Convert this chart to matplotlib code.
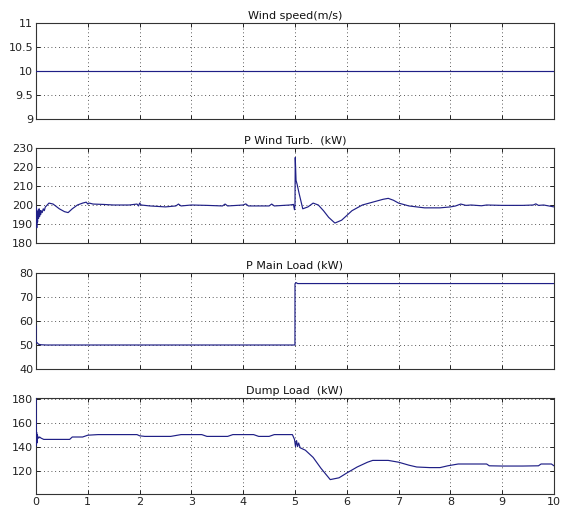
import matplotlib
matplotlib.use("Agg")
import matplotlib.pyplot as plt

# ---------------- data ----------------
wind_t = [0, 10]
wind_v = [10, 10]

turb_t = [0, 0.005, 0.01, 0.015, 0.02, 0.03, 0.04, 0.05, 0.06, 0.07, 0.08, 0.09, 0.10,
          0.12, 0.14, 0.16, 0.18, 0.2, 0.25, 0.33, 0.45, 0.55, 0.62, 0.7, 0.8, 0.9,
          0.97, 1.0, 1.03, 1.1, 1.3, 1.5, 1.8, 1.95, 1.98, 2.0, 2.03, 2.2, 2.5, 2.7,
          2.75, 2.8, 3.0, 3.3, 3.6, 3.65, 3.7, 4.0, 4.05, 4.1, 4.5, 4.55, 4.6, 4.9,
          4.97, 4.99, 5.0, 5.005, 5.02, 5.04, 5.08, 5.15, 5.25, 5.35, 5.45, 5.55,
          5.65, 5.77, 5.9, 6.1, 6.3, 6.5, 6.7, 6.8, 6.9, 7.0, 7.2, 7.5, 7.8, 8.0,
          8.1, 8.2, 8.3, 8.4, 8.6, 8.7, 9.0, 9.4, 9.6, 9.65, 9.7, 9.8, 10.0]
turb_p = [199, 192, 198, 188, 196, 191, 197, 193, 198, 194, 197, 195, 197,
          196, 198, 197, 199, 199.5, 201, 200.5, 198, 196.5, 196, 198, 200, 201,
          201.5, 200.5, 201, 200.5, 200.3, 200, 200, 200.5, 199.5, 201, 200, 199.5, 199, 199.5,
          200.5, 199.5, 200, 199.8, 199.5, 200.5, 199.5, 200, 200.6, 199.5, 199.5, 200.5, 199.5, 200,
          200.3, 197.5, 200, 225, 213, 211, 206, 198, 199, 201, 200, 197,
          193.5, 190.5, 192, 197, 200, 201.5, 203, 203.5, 202.5, 201, 199.5, 198.5, 198.5, 199,
          199.5, 200.5, 199.8, 200, 199.6, 200, 199.8, 199.8, 200, 200.6, 199.8, 200, 199]

main_t = [0, 0.001, 0.02, 0.05, 0.1, 0.2, 1.0, 2.0, 3.0, 4.0, 4.999, 5.0, 5.02, 5.05, 10.0]
main_p = [58, 51, 51, 50.3, 50.1, 50, 50, 50, 50, 50, 50, 75.5, 76, 75.6, 75.6]

dump_t = [0, 0.004, 0.008, 0.012, 0.018, 0.024, 0.03, 0.05, 0.07, 0.1, 0.15, 0.2, 0.4,
          0.65, 0.7, 0.9, 1.0, 1.2, 1.6, 1.95, 2.0, 2.1, 2.6, 2.8, 3.2, 3.3, 3.7, 3.8,
          4.2, 4.3, 4.5, 4.6, 4.95, 4.99, 5.01, 5.03, 5.05, 5.07, 5.1, 5.2, 5.35, 5.5,
          5.68, 5.85, 6.0, 6.2, 6.4, 6.5, 6.8, 7.0, 7.2, 7.35, 7.6, 7.8, 7.95, 8.15,
          8.4, 8.7, 8.75, 9.0, 9.4, 9.7, 9.75, 9.95, 10.0]
dump_p = [182, 182, 141, 152, 143, 150, 149, 147, 148, 147, 146, 146, 146,
          146, 148, 148, 149.5, 150, 150, 150, 149, 148.5, 148.5, 150, 150, 148.5, 148.5, 150,
          150, 148.5, 148.5, 150, 150, 146, 140, 145, 140, 143, 139, 137, 131, 122,
          112.5, 114, 118, 123, 127, 128.5, 128.5, 127, 124.5, 123, 122.5, 122.5, 124, 125.5,
          125.5, 125.5, 124, 123.8, 123.8, 124, 125.5, 125.5, 124]

panels = [
    ("Wind speed(m/s)", wind_t, wind_v, (9, 11), [9, 9.5, 10, 10.5, 11], ["9", "9.5", "10", "10.5", "11"]),
    ("P Wind Turb.  (kW)", turb_t, turb_p, (180, 230), [180, 190, 200, 210, 220, 230],
     ["180", "190", "200", "210", "220", "230"]),
    ("P Main Load (kW)", main_t, main_p, (40, 80), [40, 50, 60, 70, 80], ["40", "50", "60", "70", "80"]),
    ("Dump Load  (kW)", dump_t, dump_p, (100.5, 180.5), [120, 140, 160, 180], ["120", "140", "160", "180"]),
]
xticks = [0, 1, 2, 3, 4, 5, 6, 7, 8, 9, 10]

# ---------------- figure ----------------
W, H = 561, 512
fig = plt.figure(figsize=(W / 100, H / 100), dpi=100)
plt.rcParams['font.family'] = ['DejaVu Sans']

boxes = [(23, 119), (148, 243), (273, 369), (398, 494)]
left, right = 36, 554
line_color = '#1f1f86'

for i, ((title, t, v, ylim, yt, ytl), (top, bot)) in enumerate(zip(panels, boxes)):
    ax = fig.add_axes([left / W, 1 - bot / H, (right - left) / W, (bot - top) / H])
    ax.plot(t, v, color=line_color, lw=0.85, clip_on=True, zorder=3)
    ax.set_xlim(0, 10)
    ax.set_ylim(*ylim)
    ax.set_yticks(yt)
    ax.set_yticklabels(ytl)
    ax.set_xticks(xticks)
    if i == 3:
        ax.set_xticklabels([str(x) for x in xticks])
    else:
        ax.set_xticklabels([])
    ax.grid(True, color='#222222', linestyle=(0, (1, 3.5)), lw=0.6)
    ax.tick_params(direction='in', length=3, width=0.7, top=True, right=True,
                   labelsize=8, pad=2, colors='#222222')
    for s in ax.spines.values():
        s.set_color('#333333')
        s.set_linewidth(0.8)
        s.set_zorder(2)
    ax.set_title(title, fontsize=8, pad=3, color='#111111')

fig.savefig("out.png", dpi=100, facecolor='white')
